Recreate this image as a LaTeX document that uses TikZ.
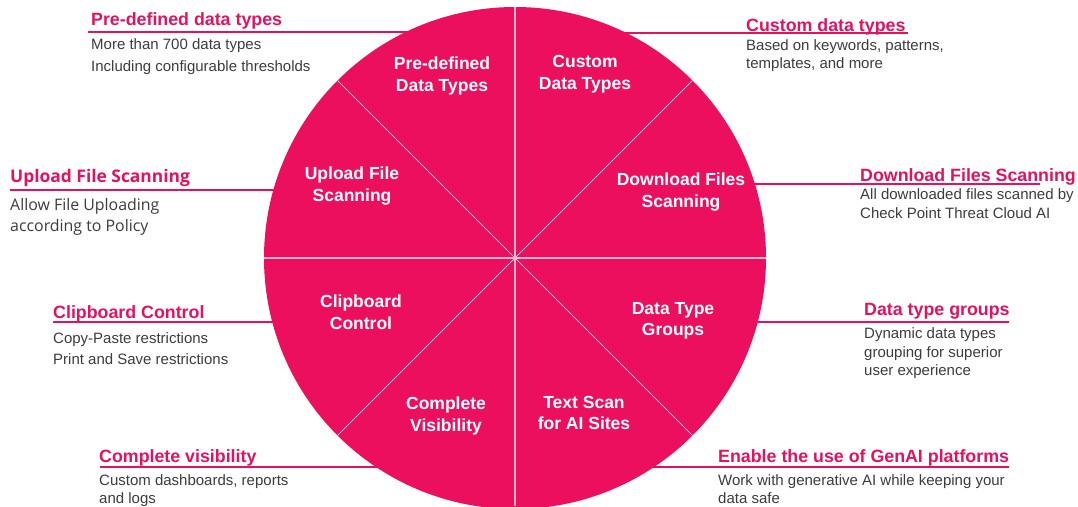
\documentclass[tikz,border=0pt]{standalone}
\usepackage{fontspec}
\usetikzlibrary{calc}
\setmainfont{Liberation Sans}
\newfontfamily\osans{Open Sans}
\definecolor{wheelpink}{HTML}{EC0F5E}
\definecolor{titlepink}{HTML}{E2125F}
\definecolor{bodygray}{HTML}{3C3C3C}
\tikzset{
  wlabel/.style={text=white,font=\bfseries\fontsize{17.5}{21.5}\selectfont,align=center,inner sep=0pt},
  ttl/.style={text=titlepink,font=\bfseries\fontsize{17.8}{20}\selectfont,anchor=base west,inner sep=0pt},
  ttlo/.style={text=titlepink,font=\osans\bfseries\fontsize{17.4}{20}\selectfont,anchor=base west,inner sep=0pt},
  bdy/.style={text=bodygray,font=\fontsize{15}{17}\selectfont,anchor=base west,inner sep=0pt},
  bdyo/.style={text=bodygray,font=\osans\fontsize{15.9}{17}\selectfont,anchor=base west,inner sep=0pt},
  uline/.style={draw=titlepink,line width=1.3pt},
  divider/.style={draw=white,line width=0.6pt},
  axisdiv/.style={draw=white!70!wheelpink,line width=1.5pt}
}
\begin{document}
\begin{tikzpicture}[x=1pt,y=-1pt]
\useasboundingbox (0,0) rectangle (1078,506);
% underlines (behind the wheel)
\coordinate (u1a) at (88,32);   \coordinate (u1b) at (515,32);
\coordinate (u2a) at (515,33);  \coordinate (u2b) at (908,33);
\coordinate (u3a) at (10,190);  \coordinate (u3b) at (515,190);
\coordinate (u4a) at (515,184); \coordinate (u4b) at (1040,184);
\coordinate (u5a) at (53,322);  \coordinate (u5b) at (515,322);
\coordinate (u6a) at (515,322); \coordinate (u6b) at (1009,322);
\coordinate (u7a) at (100,467); \coordinate (u7b) at (515,467);
\coordinate (u8a) at (515,467); \coordinate (u8b) at (1009,467);
\draw[uline] (u1a) -- (u1b);
\draw[uline] (u2a) -- (u2b);
\draw[uline] (u3a) -- (u3b);
\draw[uline] (u4a) -- (u4b);
\draw[uline] (u5a) -- (u5b);
\draw[uline] (u6a) -- (u6b);
\draw[uline] (u7a) -- (u7b);
\draw[uline] (u8a) -- (u8b);
% wheel
\coordinate (c) at (515,258);
\fill[wheelpink] (c) circle[radius=251];
\draw[divider] ($(c)+(45:251)$) -- ($(c)+(225:251)$);
\draw[divider] ($(c)+(135:251)$) -- ($(c)+(315:251)$);
\draw[axisdiv] (264,258) -- (766,258);
\draw[axisdiv] (515,7) -- (515,506);
% wheel labels
\node[wlabel] (w1) at (442,76) {Pre-defined\\Data Types};
\node[wlabel] (w2) at (585,74) {Custom\\Data Types};
\node[wlabel] (w3) at (352,186) {Upload File\\Scanning};
\node[wlabel] (w4) at (681,192) {Download Files\\Scanning};
\node[wlabel] (w5) at (361,312) {Clipboard\\Control};
\node[wlabel] (w6) at (673,321) {Data Type\\Groups};
\node[wlabel] (w7) at (446,416) {Complete\\Visibility};
\node[wlabel] (w8) at (584,413) {Text Scan\\for AI Sites};
% side texts
\node[ttl] (t1) at (91,25) {Pre-defined data types};
\node[bdy] (b1a) at (91,49) {More than 700 data types};
\node[bdy] (b1b) at (91,71) {Including configurable thresholds};
\node[ttl] (t2) at (746,31) {Custom data types};
\node[bdy] (b2a) at (746,50) {Based on keywords, patterns,};
\node[bdy] (b2b) at (746,68) {templates, and more};
\node[ttlo] (t3) at (10,182) {Upload File Scanning};
\node[bdyo] (b3a) at (10,210) {Allow File Uploading};
\node[bdyo] (b3b) at (10,231) {according to Policy};
\node[ttl] (t4) at (860,181) {Download Files Scanning};
\node[bdy] (b4a) at (860,199) {All downloaded files scanned by};
\node[bdy] (b4b) at (860,218) {Check Point Threat Cloud AI};
\node[ttl] (t5) at (53,318) {Clipboard Control};
\node[bdy] (b5a) at (53,343) {Copy-Paste restrictions};
\node[bdy] (b5b) at (53,364) {Print and Save restrictions};
\node[ttl] (t6) at (864,315) {Data type groups};
\node[bdy] (b6a) at (864,338) {Dynamic data types};
\node[bdy] (b6b) at (864,357) {grouping for superior};
\node[bdy] (b6c) at (864,375) {user experience};
\node[ttl] (t7) at (99,462) {Complete visibility};
\node[bdy] (b7a) at (99,485) {Custom dashboards, reports};
\node[bdy] (b7b) at (99,503) {and logs};
\node[ttl] (t8) at (718,462) {Enable the use of GenAI platforms};
\node[bdy] (b8a) at (718,485) {Work with generative AI while keeping your};
\node[bdy] (b8b) at (718,503) {data safe};
\end{tikzpicture}
\end{document}
